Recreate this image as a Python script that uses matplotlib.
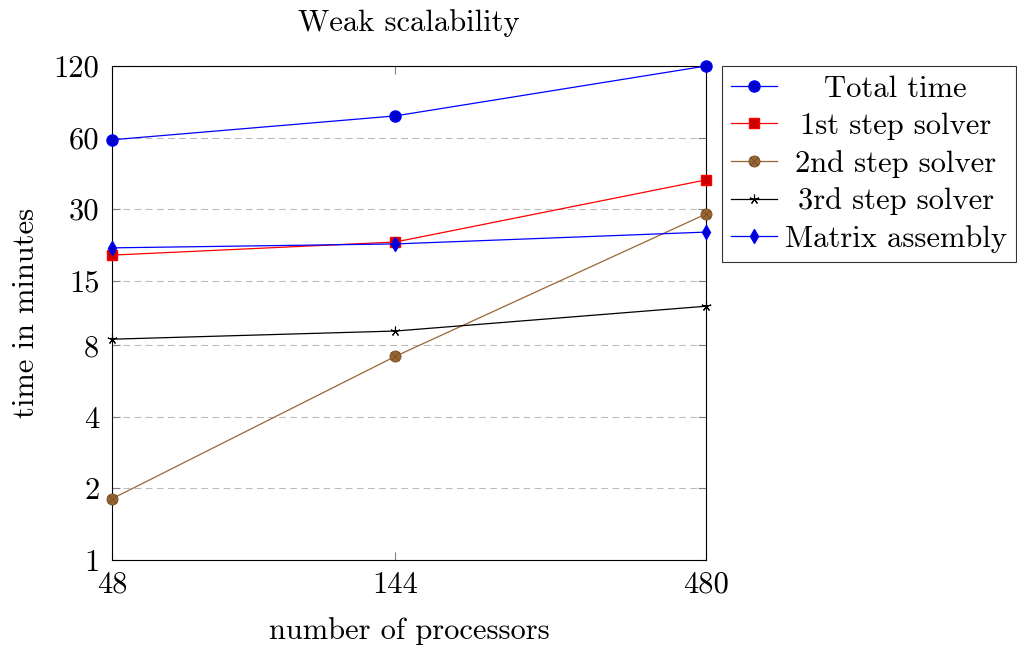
import matplotlib.pyplot as plt
from matplotlib.path import Path
from matplotlib.ticker import FixedLocator, FixedFormatter, NullLocator

plt.rcParams['font.family'] = 'cmr10'
plt.rcParams['mathtext.fontset'] = 'cm'
plt.rcParams['axes.formatter.use_mathtext'] = True

processors = [48, 144, 480]
total_time = [58.7, 74, 120]
step1 = [19.2, 21.8, 39.8]
step2 = [1.81, 7.2, 28.6]
step3 = [8.5, 9.2, 11.7]
matrix_assembly = [20.6, 21.4, 24.0]

yticks = [1, 2, 4, 8, 15, 30, 60, 120]

# circle with a cross inside (pgfplots otimes*)
otimes = Path.make_compound_path(
    Path.unit_circle(),
    Path([(-0.707, -0.707), (0.707, 0.707)], [Path.MOVETO, Path.LINETO]),
    Path([(-0.707, 0.707), (0.707, -0.707)], [Path.MOVETO, Path.LINETO]),
)

brown = (0.6, 0.4, 0.2)

fig = plt.figure(figsize=(10.17, 6.46), dpi=100)
ax = fig.add_axes([0.1101, 0.1331, 0.5841, 0.7647])

ax.plot(processors, total_time, color='blue', lw=0.9, marker='o', ms=8,
        mfc=(0, 0, 0.8), mec='blue', label='Total time', clip_on=False, zorder=5)
ax.plot(processors, step1, color='red', lw=0.9, marker='s', ms=7,
        mfc=(0.8, 0, 0), mec='red', label='1st step solver', clip_on=False, zorder=5)
ax.plot(processors, step2, color=brown, lw=0.9, marker=otimes, ms=8, mew=0.6,
        mfc=brown, mec=(0.45, 0.3, 0.15), label='2nd step solver', clip_on=False, zorder=5)
ax.plot(processors, step3, color='black', lw=0.9, marker=(5, 2, 0), ms=7,
        mew=0.8, label='3rd step solver', clip_on=False, zorder=5)
ax.plot(processors, matrix_assembly, color='blue', lw=0.9, marker='d', ms=7,
        mfc=(0, 0, 0.8), mec='blue', label='Matrix assembly', clip_on=False, zorder=5)

ax.set_xscale('log')
ax.set_yscale('log', base=2)
ax.set_xlim(48, 480)
ax.set_ylim(1, 120)

ax.xaxis.set_major_locator(FixedLocator(processors))
ax.xaxis.set_major_formatter(FixedFormatter([str(p) for p in processors]))
ax.xaxis.set_minor_locator(NullLocator())
ax.yaxis.set_major_locator(FixedLocator(yticks))
ax.yaxis.set_major_formatter(FixedFormatter([str(t) for t in yticks]))
ax.yaxis.set_minor_locator(NullLocator())

ax.tick_params(axis='both', which='major', direction='in', length=6, width=0.8,
               color='gray', labelsize=22, top=True, right=True)
ax.tick_params(axis='x', pad=8)
ax.tick_params(axis='y', pad=9)
ax.grid(axis='y', color='#bbbbbb', linestyle=(0, (6, 4)), lw=0.8)

for s in ax.spines.values():
    s.set_linewidth(0.8)

ax.set_title('Weak scalability', fontsize=22, pad=25)
ax.set_xlabel('number of processors', fontsize=22, labelpad=13)
ax.set_ylabel('time in minutes', fontsize=22, labelpad=10)

leg = ax.legend(loc='upper left', bbox_to_anchor=(1.027, 1.0), fontsize=22,
                frameon=True, fancybox=False, edgecolor='black', borderaxespad=0,
                handlelength=1.5, labelspacing=0.32, borderpad=0.3,
                handletextpad=0.25)
leg.get_frame().set_linewidth(0.8)

# center the legend texts like pgfplots does
fig.canvas.draw()
r = fig.canvas.get_renderer()
widths = [t.get_window_extent(r).width for t in leg.get_texts()]
mx = max(widths)
for t, w in zip(leg.get_texts(), widths):
    t.set_position(((mx - w) / 2, 0))

fig.savefig('out.png', dpi=100)
